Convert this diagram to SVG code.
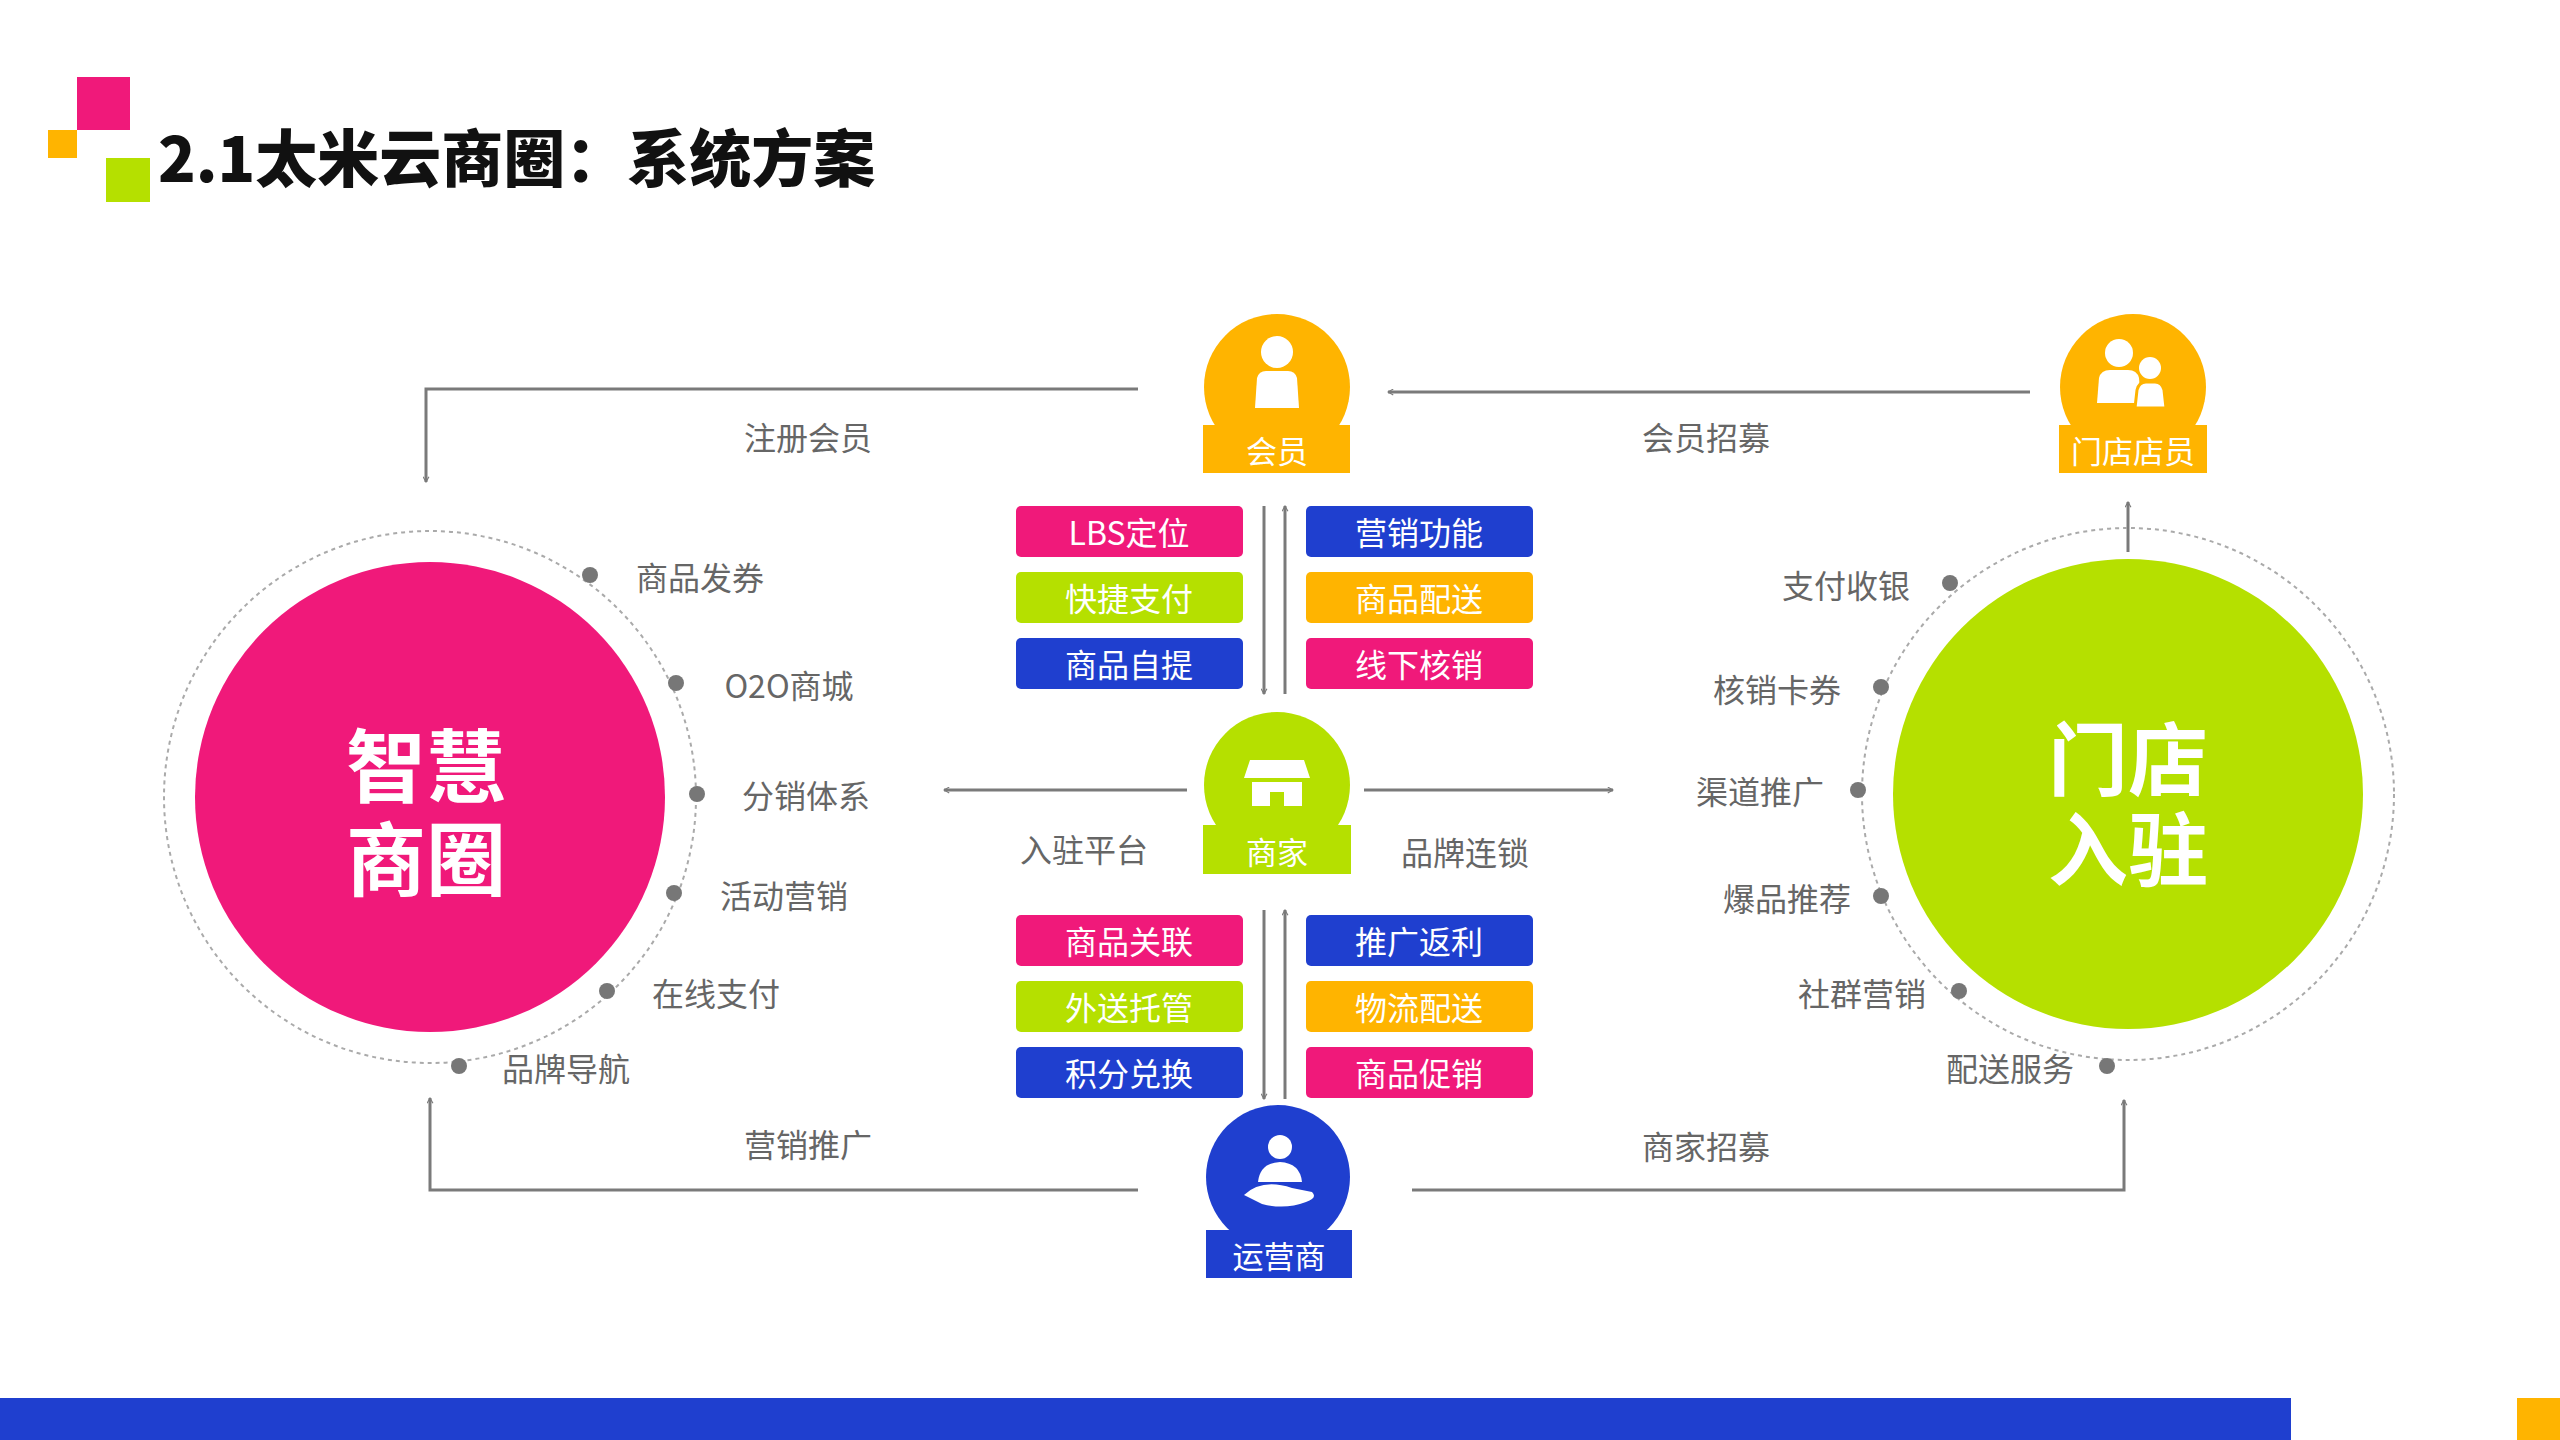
<svg xmlns="http://www.w3.org/2000/svg" width="2560" height="1440" viewBox="0 0 2560 1440">
<style>
text{font-family:"Noto Sans CJK SC","Noto Sans",sans-serif}
.lbl{font-size:32px;fill:#666;text-anchor:middle;dominant-baseline:central}
.btx{font-size:32px;fill:#fff;text-anchor:middle;dominant-baseline:central}
.ntx{font-size:31px;fill:#fff;text-anchor:middle;dominant-baseline:central}
.big{font-size:80px;font-weight:bold;fill:#fff;text-anchor:middle;dominant-baseline:central}
.ln{fill:none;stroke:#7a7a7a;stroke-width:3}
.dot{fill:#777}
.pk{fill:#F0197A}.gr{fill:#B5E000}.bl{fill:#1F3FCF}.or{fill:#FFB400}
</style>
<defs>
<marker id="ah" viewBox="0 0 12 12" refX="10" refY="6" markerWidth="7" markerHeight="7" orient="auto" markerUnits="userSpaceOnUse">
<path d="M1,1 L10,6 L1,11" fill="none" stroke="#7a7a7a" stroke-width="2"/>
</marker>
</defs>
<rect width="2560" height="1440" fill="#fff"/>
<g id="title">
<rect x="77" y="77" width="53" height="53" class="pk"/>
<rect x="48" y="130" width="29" height="28" class="or"/>
<rect x="106" y="158" width="44" height="44" class="gr"/>
<text x="158" y="182" font-size="62" font-weight="900" fill="#111" style="font-family:'Noto Sans CJK SC',sans-serif">2.1太米云商圈：系统方案</text>
</g>
<g id="connectors">
<polyline class="ln" points="1138,389 426,389 426,482" marker-end="url(#ah)"/>
<line class="ln" x1="2030" y1="392" x2="1388" y2="392" marker-end="url(#ah)"/>
<line class="ln" x1="2128" y1="552" x2="2128" y2="502" marker-end="url(#ah)"/>
<line class="ln" x1="1187" y1="790" x2="944" y2="790" marker-end="url(#ah)"/>
<line class="ln" x1="1364" y1="790" x2="1613" y2="790" marker-end="url(#ah)"/>
<polyline class="ln" points="1138,1190 430,1190 430,1098" marker-end="url(#ah)"/>
<polyline class="ln" points="1412,1190 2124,1190 2124,1100" marker-end="url(#ah)"/>
<line class="ln" x1="1264" y1="506" x2="1264" y2="694" marker-end="url(#ah)"/>
<line class="ln" x1="1285" y1="694" x2="1285" y2="506" marker-end="url(#ah)"/>
<line class="ln" x1="1264" y1="910" x2="1264" y2="1099" marker-end="url(#ah)"/>
<line class="ln" x1="1285" y1="1099" x2="1285" y2="910" marker-end="url(#ah)"/>
<text class="lbl" x="808" y="436">注册会员</text>
<text class="lbl" x="1706" y="436">会员招募</text>
<text class="lbl" x="1084" y="848">入驻平台</text>
<text class="lbl" x="1465" y="851">品牌连锁</text>
<text class="lbl" x="808" y="1143">营销推广</text>
<text class="lbl" x="1706" y="1145">商家招募</text>
</g>
<g id="left-circle">
<circle cx="430" cy="797" r="266" fill="none" stroke="#aaa" stroke-width="2" stroke-dasharray="4 4"/>
<circle cx="430" cy="797" r="235" class="pk"/>
<text class="big" x="426" y="761">智慧</text>
<text class="big" x="426" y="854">商圈</text>
<circle class="dot" cx="590" cy="575" r="8"/><text class="lbl" x="700" y="576">商品发券</text>
<circle class="dot" cx="676" cy="683" r="8"/><text class="lbl" x="789" y="684">O2O商城</text>
<circle class="dot" cx="697" cy="794" r="8"/><text class="lbl" x="806" y="794">分销体系</text>
<circle class="dot" cx="674" cy="893" r="8"/><text class="lbl" x="784" y="894">活动营销</text>
<circle class="dot" cx="607" cy="991" r="8"/><text class="lbl" x="716" y="992">在线支付</text>
<circle class="dot" cx="459" cy="1066" r="8"/><text class="lbl" x="566" y="1067">品牌导航</text>
</g>
<g id="right-circle">
<circle cx="2128" cy="794" r="266" fill="none" stroke="#aaa" stroke-width="2" stroke-dasharray="4 4"/>
<circle cx="2128" cy="794" r="235" class="gr"/>
<text class="big" x="2128" y="754">门店</text>
<text class="big" x="2128" y="844">入驻</text>
<circle class="dot" cx="1950" cy="583" r="8"/><text class="lbl" x="1846" y="584">支付收银</text>
<circle class="dot" cx="1881" cy="687" r="8"/><text class="lbl" x="1777" y="688">核销卡券</text>
<circle class="dot" cx="1858" cy="790" r="8"/><text class="lbl" x="1760" y="790">渠道推广</text>
<circle class="dot" cx="1881" cy="896" r="8"/><text class="lbl" x="1787" y="897">爆品推荐</text>
<circle class="dot" cx="1959" cy="991" r="8"/><text class="lbl" x="1862" y="992">社群营销</text>
<circle class="dot" cx="2107" cy="1066" r="8"/><text class="lbl" x="2010" y="1067">配送服务</text>
</g>
<g id="boxes">
<rect x="1016" y="506" width="227" height="51" rx="5" class="pk"/><text class="btx" x="1129" y="531">LBS定位</text>
<rect x="1016" y="572" width="227" height="51" rx="5" class="gr"/><text class="btx" x="1129" y="597">快捷支付</text>
<rect x="1016" y="638" width="227" height="51" rx="5" class="bl"/><text class="btx" x="1129" y="663">商品自提</text>
<rect x="1306" y="506" width="227" height="51" rx="5" class="bl"/><text class="btx" x="1419" y="531">营销功能</text>
<rect x="1306" y="572" width="227" height="51" rx="5" class="or"/><text class="btx" x="1419" y="597">商品配送</text>
<rect x="1306" y="638" width="227" height="51" rx="5" class="pk"/><text class="btx" x="1419" y="663">线下核销</text>
<rect x="1016" y="915" width="227" height="51" rx="5" class="pk"/><text class="btx" x="1129" y="940">商品关联</text>
<rect x="1016" y="981" width="227" height="51" rx="5" class="gr"/><text class="btx" x="1129" y="1006">外送托管</text>
<rect x="1016" y="1047" width="227" height="51" rx="5" class="bl"/><text class="btx" x="1129" y="1072">积分兑换</text>
<rect x="1306" y="915" width="227" height="51" rx="5" class="bl"/><text class="btx" x="1419" y="940">推广返利</text>
<rect x="1306" y="981" width="227" height="51" rx="5" class="or"/><text class="btx" x="1419" y="1006">物流配送</text>
<rect x="1306" y="1047" width="227" height="51" rx="5" class="pk"/><text class="btx" x="1419" y="1072">商品促销</text>
</g>
<g id="node-member">
<circle cx="1277" cy="387" r="73" class="or"/>
<rect x="1203" y="425" width="147" height="48" class="or"/>
<circle cx="1277" cy="352" r="16" fill="#fff"/>
<path d="M1255,408 L1257,378 Q1259,371 1266,371 L1288,371 Q1295,371 1297,378 L1299,408 Z" fill="#fff"/>
<text class="ntx" x="1277" y="449">会员</text>
</g>
<g id="node-staff">
<circle cx="2133" cy="387" r="73" class="or"/>
<rect x="2059" y="425" width="148" height="48" class="or"/>
<circle cx="2119" cy="353" r="14" fill="#fff"/>
<path d="M2097,403 L2099,378 Q2101,370 2110,370 L2128,370 Q2137,370 2139,378 L2141,403 Z" fill="#fff"/>
<circle cx="2150" cy="368" r="11" fill="#fff"/>
<path d="M2135,408 L2137,390 Q2139,382 2146,382 L2155,382 Q2162,382 2164,390 L2166,408 Z" fill="#fff" stroke="#FFB400" stroke-width="3"/>
<text class="ntx" x="2133" y="449">门店店员</text>
</g>
<g id="node-merchant">
<circle cx="1277" cy="785" r="73" class="gr"/>
<rect x="1203" y="825" width="148" height="49" class="gr"/>
<path d="M1250,760 L1304,760 L1310,778 L1244,778 Z" fill="#fff"/>
<path d="M1252,782 L1302,782 L1302,806 L1284,806 L1284,792 L1270,792 L1270,806 L1252,806 Z" fill="#fff"/>
<text class="ntx" x="1277" y="850">商家</text>
</g>
<g id="node-operator">
<circle cx="1278" cy="1177" r="72" class="bl"/>
<rect x="1206" y="1230" width="146" height="48" class="bl"/>
<circle cx="1280" cy="1147" r="12" fill="#fff"/>
<path d="M1258,1182 Q1260,1163 1280,1162 Q1300,1163 1302,1182 Z" fill="#fff"/>
<path d="M1244,1195 Q1262,1178 1292,1188 L1312,1192 Q1318,1198 1306,1202 Q1285,1210 1262,1204 Z" fill="#fff"/>
<text class="ntx" x="1279" y="1254">运营商</text>
</g>
<g id="footer">
<rect x="0" y="1398" width="2291" height="42" class="bl"/>
<rect x="2517" y="1398" width="43" height="42" class="or"/>
</g>
</svg>
